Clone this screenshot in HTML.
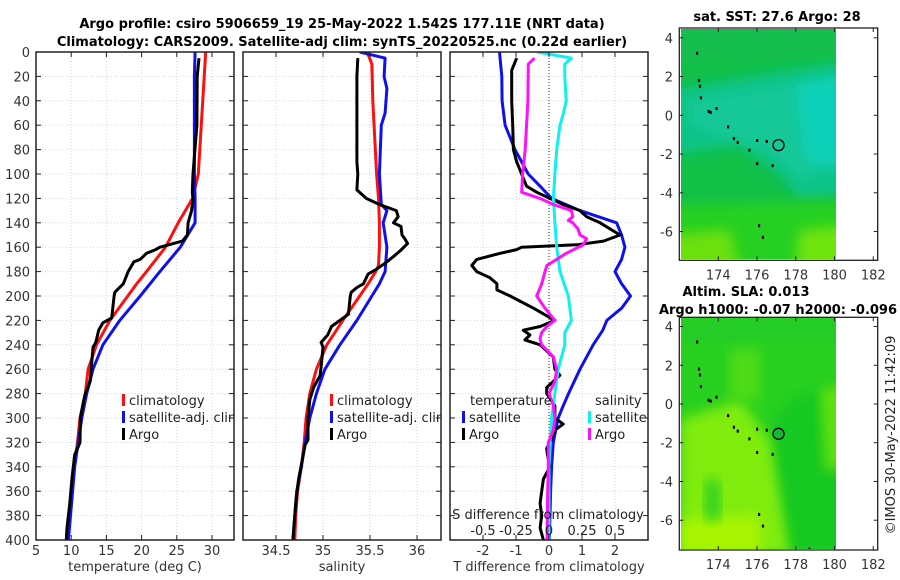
<!DOCTYPE html>
<html><head><meta charset="utf-8"><style>
html,body{margin:0;padding:0;background:#fff;}
svg{display:block;font-family:"DejaVu Sans","Liberation Sans",sans-serif;}
</style></head><body>
<svg id="fig" width="900" height="580" viewBox="0 0 900 580">
<defs>
<clipPath id="c1"><rect x="36" y="52" width="198" height="488"/></clipPath>
<clipPath id="c2"><rect x="243" y="52" width="198" height="488"/></clipPath>
<clipPath id="c3"><rect x="450" y="52" width="198" height="488"/></clipPath>
<clipPath id="m1"><rect x="681" y="29" width="155" height="230"/></clipPath>
<clipPath id="m2"><rect x="681" y="318" width="155" height="231"/></clipPath>
<filter id="blur" x="-20%" y="-20%" width="140%" height="140%"><feGaussianBlur stdDeviation="6"/></filter>
</defs>
<text x="342" y="28" text-anchor="middle" font-size="13" font-weight="bold">Argo profile: csiro 5906659_19 25-May-2022 1.542S 177.11E (NRT data)</text>
<text x="342" y="46" text-anchor="middle" font-size="13" font-weight="bold">Climatology: CARS2009. Satellite-adj clim: synTS_20220525.nc (0.22d earlier)</text>
<g id="plots"></g>
<g id="maps"></g>
<text transform="translate(895,435) rotate(-90)" text-anchor="middle" font-size="13" fill="#222">©IMOS 30-May-2022 11:42:09</text>
</svg>
<script>
// ---- data (depth in m) ----
const tClimD=[0,100,120,140,160,180,190,220,240,260,280,300,320,340,360,380,400];
const tClimV=[29.1,28.05,27.25,25.2,23.4,20.7,19.3,15.5,13.6,12.4,12.0,11.25,10.9,10.4,10.0,9.7,9.5];
const tSatD=[0,20,100,120,140,160,180,200,220,240,260,280,300,320,340,360,380,400];
const tSatV=[27.6,27.5,27.5,27.6,27.6,25.5,22.6,19.8,16.9,14.5,13.1,12.2,11.5,11.0,10.5,10.2,9.9,9.6];
const tArgoD=[5,20,60,100,115,120,130,140,150,155,160,162,165,170,172,180,190,197,200,218,222,228,238,242,270,280,285,300,320,325,330,350,370,390,400];
const tArgoV=[28.15,27.9,27.85,27.3,27.2,27.3,27.1,26.6,26.5,25.8,22.6,22.0,20.7,19.8,18.9,18.1,17.4,16.2,16.1,15.75,14.5,13.9,13.5,13.1,12.7,12.0,11.8,11.3,11.25,10.9,10.5,10.1,9.8,9.4,9.3];
const sClimD=[0,10,40,100,120,140,160,175,180,190,200,220,240,260,280,300,320,340,360,380,400];
const sClimV=[35.47,35.52,35.53,35.57,35.59,35.6,35.6,35.59,35.56,35.48,35.39,35.21,35.04,34.93,34.86,34.82,34.8,34.77,34.73,34.71,34.7];
const sSatD=[0,5,20,30,40,50,60,100,125,130,140,160,180,190,200,220,240,260,280,300,320,340,360,380,400];
const sSatV=[35.39,35.66,35.65,35.68,35.67,35.66,35.62,35.6,35.62,35.68,35.64,35.68,35.66,35.6,35.52,35.36,35.18,35.02,34.93,34.86,34.81,34.77,34.72,34.7,34.68];
const sArgoD=[5,20,80,90,100,113,120,125,130,135,140,143,150,153,157,163,167,172,178,182,190,193,197,200,215,220,225,232,238,242,250,265,275,285,300,318,322,330,350,370,400];
const sArgoV=[35.37,35.36,35.36,35.36,35.37,35.36,35.46,35.6,35.78,35.8,35.75,35.83,35.84,35.87,35.9,35.82,35.76,35.68,35.57,35.48,35.43,35.36,35.3,35.29,35.27,35.18,35.09,35.05,34.98,35.0,34.99,34.97,34.9,34.86,34.84,34.84,34.81,34.79,34.74,34.71,34.68];
const dTSatD=[0,20,40,60,80,100,110,120,130,140,150,160,170,180,190,200,210,220,228,240,260,280,290,300,320,340,360,380,400];
const dTSatV=[-1.5,-1.43,-1.42,-1.33,-1.03,-0.63,-0.27,0.08,0.94,2.05,2.2,2.3,2.2,2.0,2.2,2.47,2.2,1.75,1.63,1.34,0.94,0.59,0.43,0.28,0.13,0.08,0.05,0.03,0.01];
const dTArgoD=[5,15,40,60,80,90,100,110,115,120,125,130,135,140,145,150,155,158,160,162,165,170,175,180,185,190,195,200,210,220,225,228,232,236,240,245,250,260,265,270,275,280,290,300,305,310,320,325,330,340,345,350,360,370,380,390,400];
const dTArgoV=[-0.98,-1.13,-1.13,-1.1,-1.08,-0.98,-0.83,-0.68,-0.37,0.03,0.43,0.94,1.14,1.55,1.85,2.15,1.65,0.84,-0.83,-0.98,-1.48,-2.19,-2.34,-2.19,-1.79,-1.58,-1.58,-1.18,-0.47,0.18,-0.27,-0.78,-0.58,-0.73,-0.27,-0.07,0.13,0.18,0.33,0.13,-0.07,-0.07,0.18,0.18,0.43,0.18,0.03,-0.07,-0.05,0.03,-0.07,-0.17,-0.22,-0.27,-0.22,-0.27,-0.17];
const dSSatD=[0,5,10,20,40,50,60,80,100,120,140,160,180,200,220,230,240,260,280,300,320,340,400];
const dSSatV=[-0.09,0.17,0.12,0.12,0.13,0.11,0.083,0.058,0.045,0.033,0.045,0.058,0.083,0.146,0.17,0.12,0.12,0.07,0.045,0.02,0.008,0.0,0.0];
const dSArgoD=[5,10,40,80,100,115,120,125,130,135,138,140,145,150,153,158,165,170,175,180,190,200,210,220,225,230,235,240,250,260,270,280,290,300,310,320,340,360,400];
const dSArgoV=[-0.11,-0.157,-0.16,-0.18,-0.2,-0.207,-0.068,0.033,0.17,0.18,0.146,0.18,0.22,0.235,0.285,0.26,0.13,0.058,-0.017,-0.03,-0.055,-0.093,-0.03,0.045,-0.017,-0.055,-0.068,-0.055,0.033,0.058,0.045,0.0,0.033,0.045,0.033,-0.005,-0.005,-0.01,-0.015];
const depthTicks=[0,20,40,60,80,100,120,140,160,180,200,220,240,260,280,300,320,340,360,380,400];
const tTicks=[5,10,15,20,25,30];
const sTicks=[34.5,35,35.5,36];
const dTTicks=[-2,-1,0,1,2];
const dSTicks=[-0.5,-0.25,0,0.25,0.5];
const dSTickLabels=["-0.5","-0.25","0","0.25","0.5"];
const lonTicks=[174,176,178,180,182];
const latTicks=[4,2,0,-2,-4,-6];
const islandLon=[172.9,173.0,173.05,173.1,173.5,173.6,173.9,174.5,174.8,175.0,175.6,176.0,176.5,176.8,176.1,176.3,176.0,178.7];
const islandLat=[3.2,1.8,1.5,0.9,0.2,0.15,0.35,-0.6,-1.2,-1.4,-1.8,-1.3,-1.35,-2.6,-5.7,-6.3,-2.5,-7.5];
const argoLon=177.11, argoLat=-1.54;

const NS='http://www.w3.org/2000/svg';
function mk(tag,attrs,parent){const e=document.createElementNS(NS,tag);for(const k in attrs)e.setAttribute(k,attrs[k]);parent.appendChild(e);return e;}
const plots=document.getElementById('plots');
const Y0=52,Y1=540;
const yDepth=d=>Y0+(d/400)*(Y1-Y0);
function xs(x0,x1,d0,d1){return v=>x0+(v-d0)/(d1-d0)*(x1-x0);}
const P1=xs(36,234,5,33.125), P2=xs(243,441,34.149,36.255), P3=xs(450,648,-3,3), P3s=v=>P3(v*4);
const GRID='#cdd5f0';

function panel(name,x0,fx,ticks){
  const g=mk('g',{},plots);
  
  
  ticks.forEach(t=>{const x=fx(t);const l=mk('line',{x1:x,x2:x,y1:Y0,y2:Y1,stroke:GRID,'stroke-width':1,'stroke-dasharray':'1,2'},g);
    });
  depthTicks.forEach(d=>{const y=yDepth(d);const l=mk('line',{x1:x0,x2:x0+198,y1:y,y2:y,stroke:GRID,'stroke-width':1,'stroke-dasharray':'1,2'},g);
    });
  return g;
}
function frame(g,x0,fx,ticks,labels,title,showY){
  const r=mk('rect',{x:x0,y:Y0,width:198,height:Y1-Y0,fill:'none',stroke:'#222','stroke-width':1.5},g);
  
  depthTicks.forEach(d=>{const y=yDepth(d);
    mk('line',{x1:x0,x2:x0+5,y1:y,y2:y,stroke:'#222'},g);
    mk('line',{x1:x0+193,x2:x0+198,y1:y,y2:y,stroke:'#222'},g);
    if(showY){const t=mk('text',{x:30,y:y+5,'text-anchor':'end','font-size':13,fill:'#333'},g);t.textContent=d;
      }
  });
  ticks.forEach((v,i)=>{const x=fx(v);
    mk('line',{x1:x,x2:x,y1:Y0,y2:Y0+5,stroke:'#222'},g);
    mk('line',{x1:x,x2:x,y1:Y1-5,y2:Y1,stroke:'#222'},g);
    const t=mk('text',{x:x,y:555,'text-anchor':'middle','font-size':13,fill:'#333'},g);t.textContent=labels[i];
    });
  const tt=mk('text',{x:x0+99,y:571,'text-anchor':'middle','font-size':13,fill:'#333'},g);tt.textContent=title;
  
}
function line(g,D,V,fx,color,clip,name){
  const pts=D.map((d,i)=>fx(V[i]).toFixed(1)+','+yDepth(d).toFixed(1)).join(' ');
  const p=mk('polyline',{points:pts,fill:'none',stroke:color,'stroke-width':3,'stroke-linejoin':'round','clip-path':'url(#'+clip+')'},g);
  
}
function legend(g,x,y,color,label,clip,name){
  const gg=mk('g',{'clip-path':'url(#'+clip+')'},g);
  
  mk('rect',{x:x,y:y-11,width:3,height:12,fill:color},gg);
  const t=mk('text',{x:x+7,y:y,'font-size':13,fill:'#222'},gg);t.textContent=label;
}

let g1=panel('temperature-panel',36,P1,tTicks);
line(g1,tClimD,tClimV,P1,'#ff1010','c1','temp-climatology-line');
line(g1,tSatD,tSatV,P1,'#1010ee','c1','temp-satellite-line');
line(g1,tArgoD,tArgoV,P1,'#000','c1','temp-argo-line');
legend(g1,122,405,'#ff1010','climatology','c1','legend-climatology');
legend(g1,122,422,'#1010ee','satellite-adj. clim','c1','legend-satellite');
legend(g1,122,439,'#000','Argo','c1','legend-argo');
frame(g1,36,P1,tTicks,tTicks.map(String),'temperature (deg C)',true);

let g2=panel('salinity-panel',243,P2,sTicks);
line(g2,sClimD,sClimV,P2,'#ff1010','c2','sal-climatology-line');
line(g2,sSatD,sSatV,P2,'#1010ee','c2','sal-satellite-line');
line(g2,sArgoD,sArgoV,P2,'#000','c2','sal-argo-line');
legend(g2,330,405,'#ff1010','climatology','c2','legend-climatology');
legend(g2,330,422,'#1010ee','satellite-adj. clim','c2','legend-satellite');
legend(g2,330,439,'#000','Argo','c2','legend-argo');
frame(g2,243,P2,sTicks,sTicks.map(String),'salinity',false);

let g3=panel('difference-panel',450,P3,dTTicks);
const z=mk('line',{x1:P3(0),x2:P3(0),y1:Y0,y2:Y1,stroke:'#555','stroke-width':1.2,'stroke-dasharray':'1,2'},g3);

line(g3,dTSatD,dTSatV,P3,'#1010ee','c3','dT-satellite-line');
line(g3,dTArgoD,dTArgoV,P3,'#000','c3','dT-argo-line');
line(g3,dSSatD,dSSatV,P3s,'#10f0f0','c3','dS-satellite-line');
line(g3,dSArgoD,dSArgoV,P3s,'#ff10ff','c3','dS-argo-line');
let lt=mk('text',{x:470,y:405,'font-size':13,fill:'#222'},g3);lt.textContent='temperature';

let ls=mk('text',{x:595,y:405,'font-size':13,fill:'#222'},g3);ls.textContent='salinity';

legend(g3,462,422,'#1010ee','satellite','c3','legend-t-satellite');
legend(g3,462,439,'#000','Argo','c3','legend-t-argo');
legend(g3,588,422,'#10f0f0','satellite','c3','legend-s-satellite');
legend(g3,588,439,'#ff10ff','Argo','c3','legend-s-argo');
let st=mk('text',{x:548,y:519,'text-anchor':'middle','font-size':13,fill:'#222'},g3);st.textContent='S difference from climatology';

dSTicks.forEach((v,i)=>{const t=mk('text',{x:P3s(v),y:535,'text-anchor':'middle','font-size':13,fill:'#222'},g3);t.textContent=dSTickLabels[i];
  });
frame(g3,450,P3,dTTicks,dTTicks.map(String),'T difference from climatology',false);

const maps=document.getElementById('maps');
function map(name,top,bottom,lat0y,title1,title2,t1y,fields,circleFill){
  const g=mk('g',{},maps);
  
  const ppd=19.37;
  const fx=lon=>718.3+(lon-174)*ppd, fy=lat=>lat0y-lat*ppd;
  const clip=top<100?'m1':'m2';
  const fg=mk('g',{'clip-path':'url(#'+clip+')'},g);
  fields(fg,fx,fy);
  islandLon.forEach((lo,i)=>{const r=mk('rect',{x:fx(lo)-1,y:fy(islandLat[i])-1.5,width:2.2,height:3,fill:'#000'},fg);
    });
  const c=mk('circle',{cx:fx(argoLon),cy:fy(argoLat),r:5.5,fill:circleFill,stroke:'#000','stroke-width':1.3},g);
  
  const fr=mk('rect',{x:679.3,y:top,width:198.4,height:bottom-top,fill:'none',stroke:'#222','stroke-width':1.3},g);
  
  lonTicks.forEach(lo=>{const x=fx(lo);mk('line',{x1:x,x2:x,y1:top,y2:top+4,stroke:'#222'},g);mk('line',{x1:x,x2:x,y1:bottom-4,y2:bottom,stroke:'#222'},g);
    const t=mk('text',{x:x,y:bottom+19,'text-anchor':'middle','font-size':13,fill:'#333'},g);t.textContent=lo;
    });
  latTicks.forEach(la=>{const y=fy(la);mk('line',{x1:679.3,x2:683.3,y1:y,y2:y,stroke:'#222'},g);mk('line',{x1:873.7,x2:877.7,y1:y,y2:y,stroke:'#222'},g);
    const t=mk('text',{x:673,y:y+5,'text-anchor':'end','font-size':13,fill:'#333'},g);t.textContent=la;
    });
  let a=mk('text',{x:title2?746:777,y:t1y,'text-anchor':'middle','font-size':13,'font-weight':'bold'},g);a.textContent=title1;
  
  if(title2){let b=mk('text',{x:778,y:t1y+18,'text-anchor':'middle','font-size':13,'font-weight':'bold'},g);b.textContent=title2;
    }
}
function blob(g,pts,color,name){const p=mk('polygon',{points:pts,fill:color,filter:'url(#blur)'},g);
  }

map('sst-map',28,260.3,115.3,'sat. SST: 27.6 Argo: 28',null,21,(g,fx,fy)=>{
  mk('rect',{x:681,y:29,width:155,height:230,fill:'#12c048'},g);
  blob(g,'670,90 850,60 850,195 800,200 780,175 740,145 670,155','#10c488','sst-teal');
  blob(g,'690,100 850,75 850,160 800,180 770,150 720,135 690,125','#12c898','sst-teal-2');
  blob(g,'795,85 850,75 850,170 805,160','#10d0b8','sst-cyan');
  blob(g,'660,20 850,20 850,55 660,60','#14be50','sst-north-green');
  blob(g,'660,205 850,200 850,270 660,270','#28d020','sst-south-green');
  blob(g,'660,235 730,230 740,270 660,270','#6ce010','sst-yellow-sw');
  blob(g,'800,230 850,225 850,270 795,270','#70e410','sst-yellow-se');
},'none');

map('sla-map',317.3,550,404,'Altim. SLA: 0.013','Argo h1000: -0.07 h2000: -0.096',296,(g,fx,fy)=>{
  mk('rect',{x:681,y:318,width:155,height:231,fill:'#28d020'},g);
  blob(g,'680,320 850,320 850,340 680,340','#20cc28','sla-north');
  blob(g,'790,400 850,380 850,555 780,555 770,430','#14c820','sla-east-dark');
  blob(g,'680,420 740,400 770,440 790,555 680,555','#80ec08','sla-yellow-west');
  blob(g,'680,520 760,515 760,555 680,555','#a8f400','sla-yellow-sw');
  blob(g,'705,480 720,480 720,520 705,520','#30d020','sla-green-patch');
  blob(g,'820,390 850,380 850,470 825,470','#60e010','sla-east-stripe');
  blob(g,'730,350 760,350 760,400 730,400','#50dc14','sla-mid-stripe');
},'#18b838');
</script>
</body></html>
